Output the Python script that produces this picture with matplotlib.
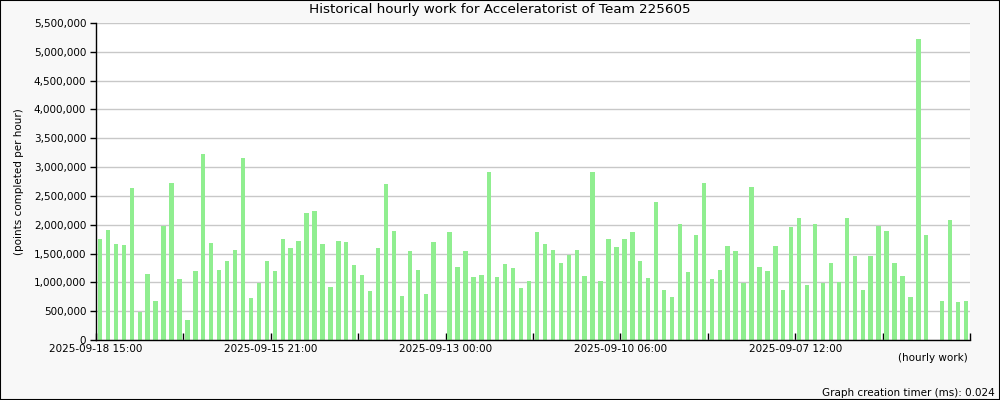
import matplotlib
matplotlib.use("Agg")
import matplotlib.pyplot as plt
from matplotlib.ticker import FuncFormatter

# points per hour, in millions, oldest slot on the left as drawn
values = [
    1.75, 1.90, 1.66, 1.64, 2.63, 0.48, 1.14, 0.67, 1.98, 2.73,
    1.06, 0.35, 1.19, 3.22, 1.68, 1.21, 1.37, 1.56, 3.15, 0.73,
    0.99, 1.37, 1.19, 1.75, 1.59, 1.71, 2.21, 2.23, 1.66, 0.92,
    1.71, 1.70, 1.30, 1.12, 0.85, 1.59, 2.70, 1.89, 0.76, 1.54,
    1.21, 0.80, 1.70, 0.00, 1.87, 1.26, 1.54, 1.09, 1.12, 2.91,
    1.09, 1.31, 1.25, 0.90, 1.02, 1.87, 1.66, 1.57, 1.33, 1.47,
    1.57, 1.11, 2.92, 1.02, 1.76, 1.61, 1.75, 1.87, 1.37, 1.07,
    2.40, 0.87, 0.74, 2.02, 1.18, 1.83, 2.73, 1.06, 1.21, 1.63,
    1.54, 0.99, 2.66, 1.26, 1.19, 1.63, 0.87, 1.96, 2.11, 0.95,
    2.02, 0.99, 1.33, 1.00, 2.11, 1.45, 0.87, 1.45, 1.97, 1.89,
    1.33, 1.11, 0.74, 5.22, 1.82, 0.00, 0.67, 2.09, 0.66, 0.67,
]
values = [v * 1e6 for v in values]

tick_labels = ["2025-09-18 15:00", "", "2025-09-15 21:00", "", "2025-09-13 00:00", "",
               "2025-09-10 06:00", "", "2025-09-07 12:00", "", ""]
y_ticks = list(range(0, 5500001, 500000))

n = len(values)
x = list(range(n))

fig = plt.figure(figsize=(10, 4), dpi=100, facecolor="#f8f8f8")
ax = fig.add_axes([0.096, 0.15, 0.874, 0.7925])
ax.set_facecolor("white")

ax.bar(x, values, width=0.55, color="#90ee90", zorder=2)

ax.set_xlim(-0.5, n - 0.5)
ax.set_ylim(0, 5500000)
ax.set_yticks(y_ticks)
ax.yaxis.set_major_formatter(FuncFormatter(lambda v, p: f"{int(v):,}"))
ax.grid(axis="y", color="#c8c8c8", linewidth=1, zorder=1)

step = n / (len(tick_labels) - 1)
ax.set_xticks([-0.5 + step * i for i in range(len(tick_labels))])
ax.set_xticklabels(tick_labels)

ax.tick_params(axis="x", direction="in", length=5, width=1, labelsize=7.5, pad=3)
ax.tick_params(axis="y", direction="out", length=4, width=1, labelsize=7.5, pad=3)

for s in ["top", "right"]:
    ax.spines[s].set_visible(False)
for s in ["left", "bottom"]:
    ax.spines[s].set_linewidth(1)
    ax.spines[s].set_color("black")

ax.set_ylabel("(points completed per hour)", fontsize=7.5)
ax.yaxis.set_label_coords(-0.082, 0.5)

fig.text(0.5, 0.975, "Historical hourly work for Acceleratorist of Team 225605",
         ha="center", va="center", fontsize=9.7)
fig.text(0.968, 0.105, "(hourly work)", ha="right", va="center", fontsize=7.5)
fig.text(0.995, 0.0175, "Graph creation timer (ms): 0.024", ha="right", va="center", fontsize=7.5)

# frame around the whole picture
fig.patches.append(plt.Rectangle((0, 0), 1, 1, transform=fig.transFigure,
                                 fill=False, edgecolor="black", linewidth=1.5))

fig.savefig("out.png", dpi=100, facecolor=fig.get_facecolor())
